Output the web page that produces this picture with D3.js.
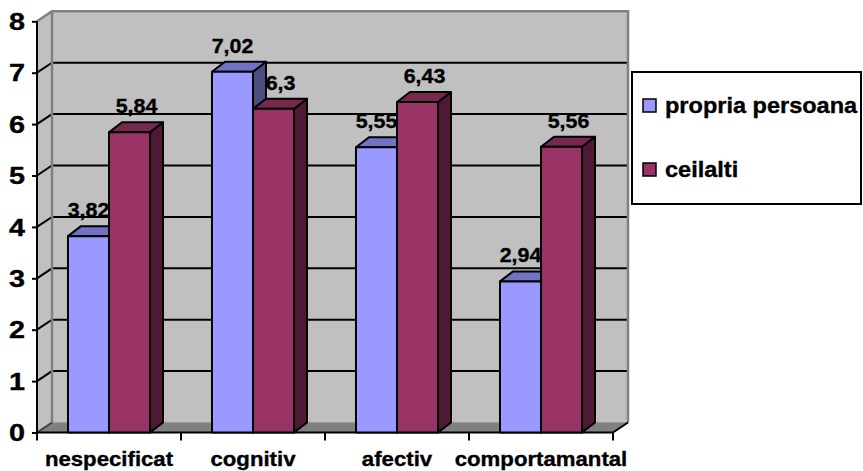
<!DOCTYPE html>
<html>
<head>
<meta charset="utf-8">
<script src="https://cdn.jsdelivr.net/npm/d3@7"></script>
<style>
  html, body { margin: 0; padding: 0; background: #ffffff; }
  svg { display: block; }
  text { font-family: "Liberation Sans", Arial, sans-serif; font-weight: bold; fill: #000; stroke: #000; stroke-width: 0.35px; }
</style>
</head>
<body>
<svg id="chart" width="863" height="471"></svg>
<script>
// Categories, series and values
const categories = ["nespecificat", "cognitiv", "afectiv", "comportamantal"];
const seriesNames = ["propria persoana", "ceilalti"];
const propriaPersoana = [3.82, 7.02, 5.55, 2.94];
const ceilalti = [5.84, 6.3, 6.43, 5.56];
const yTicks = [0, 1, 2, 3, 4, 5, 6, 7, 8];

const seriesValues = [propriaPersoana, ceilalti];
const frontColors = ["#9999ff", "#993366"];
const topColors = ["#7373c6", "#77284f"];
const sideColors = ["#4d4d80", "#4d1a33"];

const svg = d3.select("#chart");

// Plot frame (front plane) and depth offsets for the 3D look
const plotLeft = 37, plotRight = 613;
const wallDx = 15, wallDy = -10;   // back wall offset
const barDx = 13, barDy = -10;     // bar depth offset

const x0 = d3.scaleBand().domain(categories).range([plotLeft, plotRight]).padding(0);
const x1 = d3.scaleBand().domain(seriesNames).range([0, x0.bandwidth()])
  .paddingInner(0).paddingOuter(0.756);
const y = d3.scaleLinear().domain([0, 8]).range([432.5, 21.3]);

const fmt = v => String(v).replace(".", ",");

// Text helper: positions text and widens the glyphs horizontally
function place(sel, tx, ty, sx) {
  sel.attr("x", 0).attr("y", 0)
     .attr("transform", (d, i) => `translate(${tx(d, i)},${ty(d, i)}) scale(${sx},1)`);
}

// ---- Walls ----
const y0 = y(0), yTop = y(8);
const walls = svg.append("g");
// left side wall
walls.append("polygon")
  .attr("points", [[plotLeft, y0], [plotLeft + wallDx, y0 + wallDy], [plotLeft + wallDx, yTop + wallDy], [plotLeft, yTop]].join(" "))
  .attr("fill", "#c0c0c0");
// back wall
walls.append("rect")
  .attr("x", plotLeft + wallDx).attr("y", yTop + wallDy)
  .attr("width", plotRight - plotLeft).attr("height", y0 - yTop)
  .attr("fill", "#c0c0c0");

// gridlines on back wall and their continuation across the side wall
const grid = svg.append("g").attr("stroke", "#000").attr("stroke-width", 2).attr("fill", "none");
yTicks.filter(t => t > 0 && t < 8).forEach(t => {
  grid.append("polyline")
    .attr("points", [[plotLeft, y(t)], [plotLeft + wallDx, y(t) + wallDy], [plotRight + wallDx, y(t) + wallDy]].join(" "));
});

// wall edges
const edges = svg.append("g").attr("stroke", "#808080").attr("stroke-width", 2.5).attr("fill", "none");
edges.append("polyline")
  .attr("points", [[plotLeft, yTop], [plotLeft + wallDx, yTop + wallDy], [plotRight + wallDx, yTop + wallDy], [plotRight + wallDx, y0 + wallDy]].join(" "));
edges.append("line")
  .attr("x1", plotLeft + wallDx).attr("y1", yTop + wallDy)
  .attr("x2", plotLeft + wallDx).attr("y2", y0 + wallDy);

// floor
svg.append("polygon")
  .attr("points", [[plotLeft, y0], [plotRight, y0], [plotRight + wallDx, y0 + wallDy], [plotLeft + wallDx, y0 + wallDy]].join(" "))
  .attr("fill", "#808080").attr("stroke", "#999999").attr("stroke-width", 1);
svg.append("line")
  .attr("x1", plotLeft).attr("y1", y0).attr("x2", plotLeft + wallDx).attr("y2", y0 + wallDy)
  .attr("stroke", "#404040").attr("stroke-width", 2);
svg.append("line")
  .attr("x1", plotRight).attr("y1", y0).attr("x2", plotRight + wallDx).attr("y2", y0 + wallDy)
  .attr("stroke", "#000").attr("stroke-width", 2);

// ---- Axes ----
const yAxis = svg.append("g")
  .attr("transform", `translate(${plotLeft},0)`)
  .call(d3.axisLeft(y).tickValues(yTicks).tickSize(5).tickFormat(""));
yAxis.select(".domain").attr("stroke", "#000").attr("stroke-width", 2).attr("d", `M0,${yTop}V${y0}`);
yAxis.selectAll(".tick line").attr("stroke", "#000").attr("stroke-width", 2);

svg.append("g").selectAll("text")
  .data(yTicks).join("text")
  .attr("text-anchor", "end")
  .style("font-size", "24px")
  .text(d => d)
  .call(place, () => 25, d => y(d) + 8.6, 1.2);

const xAxis = svg.append("g")
  .attr("transform", `translate(0,${y0})`)
  .call(d3.axisBottom(x0).tickSize(0).tickFormat(""));
xAxis.select(".domain").attr("stroke", "#000").attr("stroke-width", 2).attr("d", `M${plotLeft},0H${plotRight}`);
// boundary ticks between categories
const boundaries = categories.map(c => x0(c)).concat([plotRight]);
xAxis.selectAll(".bound").data(boundaries).join("line")
  .attr("class", "bound")
  .attr("x1", d => d).attr("x2", d => d).attr("y1", 0).attr("y2", 8)
  .attr("stroke", "#000").attr("stroke-width", 2);

svg.append("g").selectAll("text")
  .data(categories).join("text")
  .attr("text-anchor", "middle")
  .style("font-size", "20px")
  .text(d => d)
  .call(place, d => x0(d) + x0.bandwidth() / 2, () => 466, 1.11);

// ---- Bars ----
const bars = svg.append("g")
  .attr("stroke", "#000").attr("stroke-width", 2).attr("stroke-linejoin", "round");

categories.forEach((cat, ci) => {
  seriesNames.forEach((s, si) => {
    const v = seriesValues[si][ci];
    const bx = x0(cat) + x1(s), bw = x1.bandwidth();
    const yt = y(v);
    const g = bars.append("g");
    g.append("polygon")
      .attr("points", [[bx + bw, yt], [bx + bw + barDx, yt + barDy], [bx + bw + barDx, y0 + barDy], [bx + bw, y0]].join(" "))
      .attr("fill", sideColors[si]);
    g.append("polygon")
      .attr("points", [[bx, yt], [bx + barDx, yt + barDy], [bx + bw + barDx, yt + barDy], [bx + bw, yt]].join(" "))
      .attr("fill", topColors[si]);
    g.append("rect")
      .attr("x", bx).attr("y", yt).attr("width", bw).attr("height", y0 - yt)
      .attr("fill", frontColors[si]);
  });
});

// ---- Value labels ----
const labelData = [];
categories.forEach((cat, ci) => seriesNames.forEach((s, si) =>
  labelData.push({ cat, s, si, v: seriesValues[si][ci] })));
svg.append("g").selectAll("text")
  .data(labelData).join("text")
  .attr("text-anchor", "middle")
  .style("font-size", "20px")
  .text(d => fmt(d.v))
  .call(place,
    d => x0(d.cat) + x1(d.s) + x1.bandwidth() / 2 + (d.si === 0 ? 0 : 7),
    d => y(d.v) + barDy - 9,
    1.07);

// ---- Legend ----
const legend = svg.append("g");
legend.append("rect")
  .attr("x", 632).attr("y", 72).attr("width", 229).attr("height", 132)
  .attr("fill", "#fff").attr("stroke", "#000").attr("stroke-width", 2);
const rows = legend.selectAll(".row").data(seriesNames).join("g")
  .attr("class", "row")
  .attr("transform", (d, i) => `translate(643,${99 + i * 64})`);
rows.append("rect")
  .attr("width", 13).attr("height", 13)
  .attr("fill", (d, i) => frontColors[i])
  .attr("stroke", "#000").attr("stroke-width", 1.5);
rows.append("text")
  .style("font-size", "22px")
  .text(d => d)
  .call(place, () => 22, () => 14, 1.07);
</script>
</body>
</html>
